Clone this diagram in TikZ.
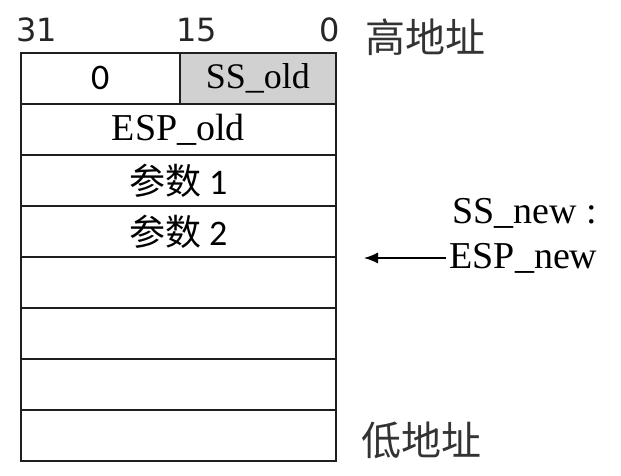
\documentclass[tikz,border=0pt]{standalone}
\usepackage{fontspec}
\setmainfont{Liberation Serif}
\newfontfamily\cjk{Noto Sans CJK SC}
\newfontfamily\numfont{DejaVu Sans}
\usetikzlibrary{arrows.meta}
\begin{document}
\begin{tikzpicture}[x=1pt,y=-1pt,
  cell/.style={draw=black!88,line width=1.6pt,minimum height=51pt,inner sep=0pt,anchor=north west},
  lbl/.style={font=\fontsize{38}{38}\selectfont},
  cj/.style={font=\cjk\fontsize{36}{36}\selectfont},
  hdr/.style={font=\numfont\fontsize{32}{32}\selectfont\color{black!85}},
  side/.style={font=\cjk\fontsize{40}{40}\selectfont\color{black!80}}]
\useasboundingbox (0,0) rectangle (621,475);
\node[cell,minimum width=159pt] (z) at (20,52) {};
\node[cell,minimum width=156pt,fill=black!18] (ss) at (179,52) {};
\node[cell,minimum width=315pt] (r1) at (20,103) {};
\node[cell,minimum width=315pt] (r2) at (20,154) {};
\node[cell,minimum width=315pt] (r3) at (20,205) {};
\node[cell,minimum width=315pt] (r4) at (20,256) {};
\node[cell,minimum width=315pt] (r5) at (20,307) {};
\node[cell,minimum width=315pt] (r6) at (20,358) {};
\node[cell,minimum width=315pt] (r7) at (20,409) {};
\node[font=\fontspec{Carlito}\fontsize{36}{36}\selectfont] (t0) at (z.center) {0};
\node[lbl,font=\fontsize{36}{36}\selectfont] (tss) at (ss.center) {SS\_old};
\node[lbl] (tesp) at (r1.center) {ESP\_old};
\node[cj] (p1) at (r2.center) {参数 {\fontspec{Carlito}1}};
\node[cj] (p2) at (r3.center) {参数 {\fontspec{Carlito}2}};
\node[hdr] (h31) at (37,30) {31};
\node[hdr] (h15) at (197,30) {15};
\node[hdr] (h0) at (330,30) {0};
\node[side,anchor=west] (hi) at (362,37) {高地址};
\node[side,anchor=west] (lo) at (358,440) {低地址};
\node[lbl,anchor=west] (ssn) at (449,213) {SS\_new :};
\node[lbl,anchor=west] (espn) at (446,258) {ESP\_new};
\coordinate (tip) at (364,258);
\draw[line width=1.2pt,-{Latex[length=14pt,width=11pt]}] (espn.west) -- (tip);
\end{tikzpicture}
\end{document}
